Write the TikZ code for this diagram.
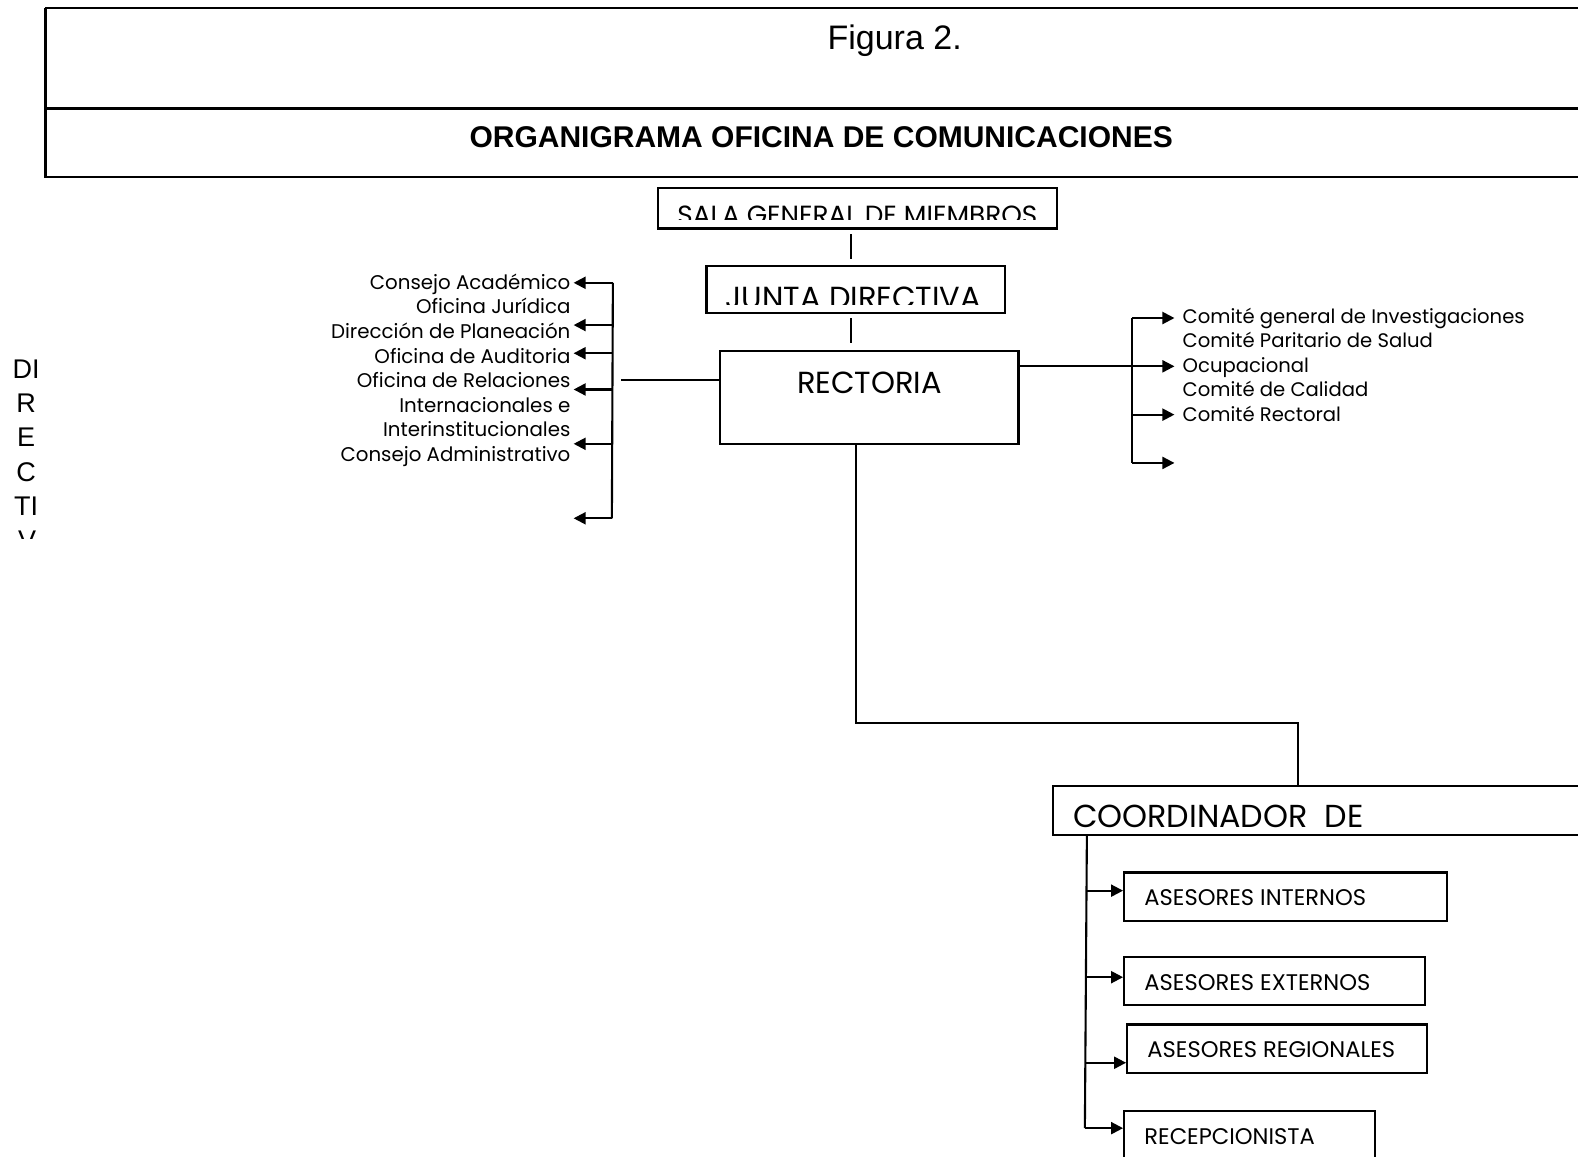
\documentclass[tikz,border=0pt]{standalone}
\usepackage{fontspec}
\setmainfont{Liberation Sans}
\newfontfamily\cg{Poppins}
\usetikzlibrary{arrows.meta,fit}
\begin{document}
\begin{tikzpicture}[x=1.00638pt,y=-1.00638pt,
  box/.style={draw,line width=2.1pt,inner sep=0pt},
  conn/.style={line width=2.1pt},
  arr/.style={line width=2.1pt,-{Triangle[length=12pt,width=12pt]}},
  lt/.style={font=\cg\fontsize{19.8}{22}\selectfont,inner sep=0pt},
  rtx/.style={font=\cg\fontsize{19.6}{22}\selectfont,inner sep=0pt,anchor=base west},
  bt/.style={font=\cg\fontsize{22.6}{25}\selectfont,inner sep=0pt,anchor=base west},
  dv/.style={font=\fontsize{27}{30}\selectfont,inner sep=0pt,anchor=base}]
\useasboundingbox (0,0) rectangle (1568,1149);
% header frame
\draw[line width=2.6pt] (45,8) -- (1590,8) (45,8) -- (45,176) -- (1590,176) (45,108) -- (1590,108);
\node[font=\fontsize{34}{36}\selectfont,anchor=base,inner sep=0pt] (fig) at (889,49) {Figura 2.};
\node[font=\bfseries\fontsize{30}{32}\selectfont,anchor=base,inner sep=0pt] (title) at (816,147) {ORGANIGRAMA OFICINA DE COMUNICACIONES};
% vertical DIRECTIVA
\node[dv] (d1) at (26,376) {DI};
\node[dv] (d2) at (26,410) {R};
\node[dv] (d3) at (26,444) {E};
\node[dv] (d4) at (26,478) {C};
\node[dv] (d5) at (26,512) {TI};
\begin{scope}
\clip (0,520) rectangle (80,535);
\node[dv] (d6) at (27,546) {V};
\end{scope}
% top boxes
\node[box,fit={(654,187)(1050,227)}] (sala) {};
\begin{scope}
\clip (656,189) rectangle (1048,218);
\node[font=\cg\fontsize{26.3}{28}\selectfont,anchor=base,inner sep=0pt] (salat) at (852,223) {SALA GENERAL DE MIEMBROS};
\end{scope}
\node[box,fit={(702,264)(999,311)}] (junta) {};
\begin{scope}
\clip (704,266) rectangle (997,303);
\node[font=\cg\fontsize{30.5}{32}\selectfont,anchor=base,inner sep=0pt] (juntat) at (848,307) {JUNTA DIRECTIVA};
\end{scope}
\node[box,fit={(715,349)(1012,441)}] (rect) {};
\node[font=\cg\fontsize{30.5}{32}\selectfont,anchor=base,inner sep=0pt] (rectt) at (864,391) {RECTORIA};
\coordinate (s1) at (846,233); \coordinate (s2) at (846,257);
\coordinate (s3) at (846,316); \coordinate (s4) at (846,341);
\draw[conn] (s1) -- (s2);
\draw[conn] (s3) -- (s4);
% left branch
\coordinate (lh) at (617,378);
\draw[conn] (rect.west |- lh) -- (lh);
\coordinate (lt) at (609,281); \coordinate (lb) at (608,515);
\coordinate (la1) at (570,281); \coordinate (la2) at (570,323);
\coordinate (la3) at (570,351); \coordinate (la4) at (570,387);
\coordinate (la5) at (570,441); \coordinate (la6) at (570,515);
\draw[conn] (lt) -- (lb);
\draw[arr] (lt) -- (la1);
\draw[arr] (lt |- la2) -- (la2);
\draw[arr] (lt |- la3) -- (la3);
\draw[arr] (lt |- la4) -- (la4);
\draw[arr] (lt |- la5) -- (la5);
\draw[arr] (lb) -- (la6);
\node[lt,anchor=base east] (l1) at (567,288) {Consejo Académico};
\node[lt,anchor=base east] (l2) at (567,312) {Oficina Jurídica};
\node[lt,anchor=base east] (l3) at (567,336) {Dirección de Planeación};
\node[lt,anchor=base east] (l4) at (567,361) {Oficina de Auditoria};
\node[lt,anchor=base east] (l5) at (567,385) {Oficina de Relaciones};
\node[lt,anchor=base east] (l6) at (567,410) {Internacionales e};
\node[lt,anchor=base east] (l7) at (567,434) {Interinstitucionales};
\node[lt,anchor=base east] (l8) at (567,459) {Consejo Administrativo};
% right branch
\coordinate (rv) at (1125,364);
\coordinate (rt) at (1125,316); \coordinate (rb) at (1125,460);
\coordinate (ra1) at (1167,316); \coordinate (ra2) at (1167,364);
\coordinate (ra3) at (1167,412); \coordinate (ra4) at (1167,460);
\draw[conn] (rect.east |- rv) -- (rv);
\draw[conn] (rt) -- (rb);
\draw[arr] (rt) -- (ra1);
\draw[arr] (rv) -- (ra2);
\draw[arr] (rt |- ra3) -- (ra3);
\draw[arr] (rb) -- (ra4);
\node[rtx] (r1) at (1175,321) {Comité general de Investigaciones};
\node[rtx] (r2) at (1175,345) {Comité Paritario de Salud};
\node[rtx] (r3) at (1175,370) {Ocupacional};
\node[rtx] (r4) at (1175,394) {Comité de Calidad};
\node[rtx] (r5) at (1175,419) {Comité Rectoral};
% coordinator
\node[box,fit={(1046,781)(1600,830)}] (coord) {};
\node[font=\cg\fontsize{31.8}{34}\selectfont,anchor=base west,inner sep=0pt] (coordt) at (1066,822) {COORDINADOR\ \ DE};
\coordinate (b1) at (851,718); \coordinate (b2) at (1290,718);
\draw[conn] (rect.south -| b1) -- (b1) -- (b2) -- (coord.north -| b2);
\node[box,fit={(1117,867)(1438,915)}] (ai) {};
\node[box,fit={(1117,951)(1416,999)}] (ae) {};
\node[box,fit={(1120,1018)(1418,1066)}] (ar) {};
\node[box,fit={(1117,1104)(1366,1170)}] (rc) {};
\node[bt] (ait) at (1137,900) {ASESORES INTERNOS};
\node[bt] (aet) at (1137,984) {ASESORES EXTERNOS};
\node[bt] (art) at (1140,1051) {ASESORES REGIONALES};
\node[bt] (rct) at (1137,1137) {RECEPCIONISTA};
\coordinate (ct) at (1080,830); \coordinate (cb) at (1078,1121);
\draw[conn] (ct) -- (cb);
\draw[arr] (1080,885) -- (ai.west |- 0,885);
\draw[arr] (1079,971) -- (ae.west |- 0,971);
\draw[arr] (1079,1056) -- (ar.west |- 0,1056);
\draw[arr] (cb) -- (rc.west |- cb);
\end{tikzpicture}
\end{document}
